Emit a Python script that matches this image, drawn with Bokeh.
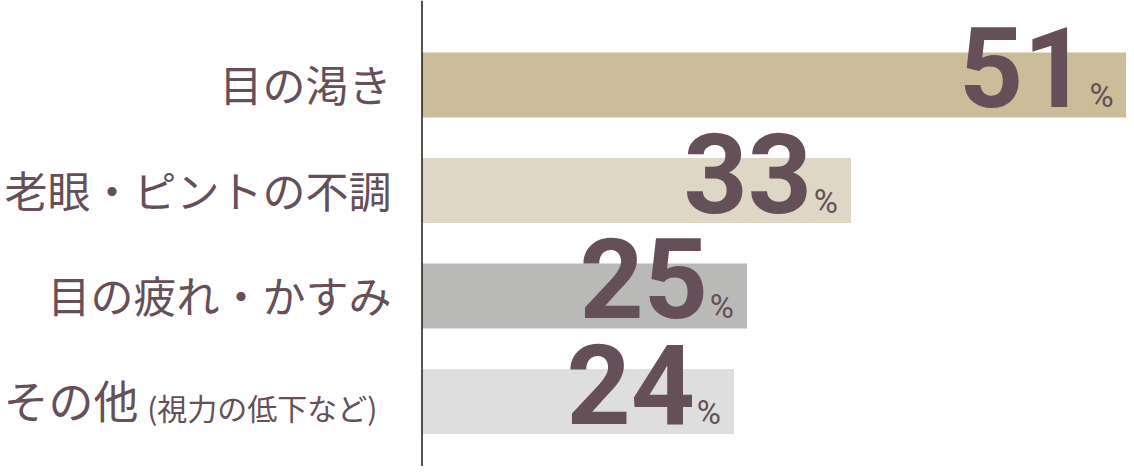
from bokeh.plotting import figure
from bokeh.models import Range1d, Span, ColumnDataSource
from bokeh.core.properties import value
from bokeh.embed import file_html
from bokeh.resources import INLINE

# ---- data ----
categories = ["目の渇き", "老眼・ピントの不調", "目の疲れ・かすみ", "その他"]
sublabels = ["", "", "", "(視力の低下など)"]
bar_lengths = [54.2, 33, 25, 24]        # bar length (%)
percent_labels = ["51", "33", "25", "24"]
bar_colors = ["#CBBD99", "#DFD7C5", "#B9BAB8", "#DEDEDE"]

TEXT_COLOR = "#654F58"
W, H = 1126, 466
PX_PER_UNIT = 13.0
AXIS_PX = 421.5      # canvas x of the zero line
ROW_PX = 105.5       # distance between rows
FIRST_ROW_PX = 84.5  # canvas y of the first row centre

x_start = -AXIS_PX / PX_PER_UNIT
x_end = x_start + W / PX_PER_UNIT
y_top = -FIRST_ROW_PX / ROW_PX
y_bottom = y_top + H / ROW_PX

rows = list(range(len(categories)))

p = figure(
    width=W, height=H,
    x_range=Range1d(x_start, x_end),
    y_range=Range1d(y_bottom, y_top),
    output_backend="svg", toolbar_location=None,
    x_axis_location=None, y_axis_location=None,
    min_border=0,
)
p.outline_line_color = None
p.grid.grid_line_color = None
p.background_fill_color = "white"
p.border_fill_color = "white"

src = ColumnDataSource(dict(
    row=rows,
    cat=categories,
    length=bar_lengths,
    color=bar_colors,
    pct=percent_labels,
    pct_sign=["%"] * len(categories),
    sub=sublabels,
    main_xo=[-283.5 if s else -30.5 for s in sublabels],
    main_fs=["45px" if s else "43px" for s in sublabels],
))

p.hbar(y="row", left=0, right="length", height=65 / ROW_PX,
       fill_color="color", line_color=None, source=src)

p.add_layout(Span(location=0, dimension="height",
                  line_color="#231815", line_width=1.5))

# category labels
p.text(x=0, y="row", text="cat", x_offset="main_xo", y_offset=-2, source=src,
       text_align="right", text_baseline="middle",
       text_font=value("Noto Sans CJK JP"), text_font_size="main_fs",
       text_color=TEXT_COLOR)
p.text(x=0, y="row", text="sub", x_offset=-44.5, y_offset=5, source=src,
       text_align="right", text_baseline="middle",
       text_font=value("Noto Sans CJK JP"), text_font_size="30px",
       text_color=TEXT_COLOR)

# value labels
p.text(x="length", y="row", text="pct", x_offset=-39, y_offset=-18, source=src,
       text_align="right", text_baseline="middle",
       text_font=value("Roboto"), text_font_style="bold",
       text_font_size="112px", text_color=TEXT_COLOR)
p.text(x="length", y="row", text="pct_sign", x_offset=-13, y_offset=10.5, source=src,
       text_align="right", text_baseline="middle",
       text_font=value("Roboto"), text_font_size="33px",
       text_color=TEXT_COLOR)

open("out.html", "w").write(file_html(p, INLINE))
